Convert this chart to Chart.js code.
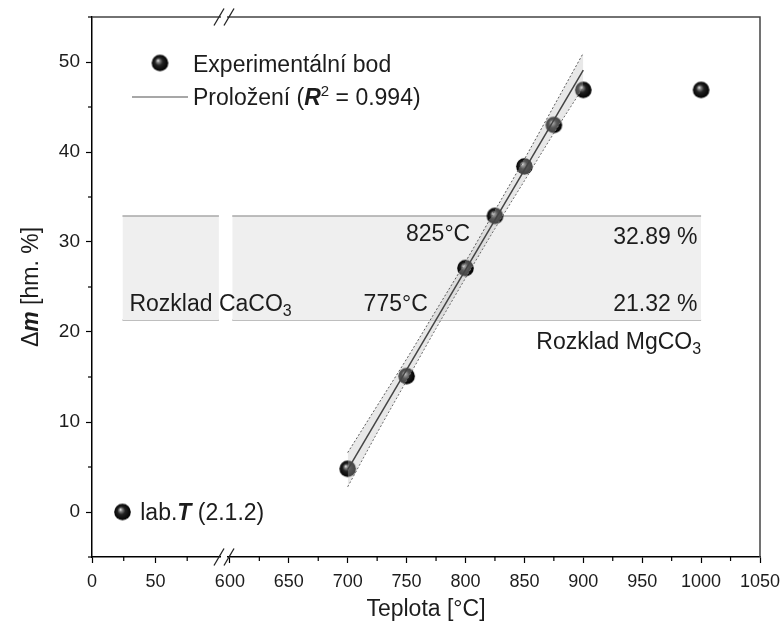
<!DOCTYPE html>
<html>
<head>
<meta charset="utf-8">
<script src="https://cdn.jsdelivr.net/npm/chart.js@4.4.1/dist/chart.umd.min.js"></script>
<style>
  body { margin: 0; background: #fff; }
  #wrap { width: 783px; height: 628px; }
</style>
</head>
<body>
<div id="wrap"><canvas id="chart"></canvas></div>
<script>
// namerene body
var tempExp = [700, 750, 800, 825, 850, 875, 900, 1000];
var massExp = [4.8, 15.1, 27.1, 32.9, 38.4, 43.0, 46.9, 46.9];
var tempLab = [24];
var massLab = [0];

// prolozeni a pas spolehlivosti
var tempFit = [700, 900];
var massFit = [4.7, 49.1];
var tempBand = [700, 725, 750, 775, 800, 825, 850, 875, 900];
var bandUpper = [6.6, 11.8, 17.0, 22.4, 27.8, 33.5, 39.2, 45.1, 51.0];
var bandLower = [2.8, 8.8, 14.6, 20.4, 26.0, 31.5, 36.8, 42.1, 47.2];

// oblasti rozkladu
var caco3Range = [24, 100];
var mgco3Range = [602, 1000];
var stepLevels = [32.89, 21.32];

// osy
var xLeftRange = [0, 104];
var xRightRange = [595, 1050];
var xTicksLeft = [0, 25, 50, 75];
var xTicksRight = [600, 625, 650, 675, 700, 725, 750, 775, 800, 825, 850, 875, 900, 925, 950, 975, 1000, 1025, 1050];
var yTicks = [-5, 0, 5, 10, 15, 20, 25, 30, 35, 40, 45, 50, 55];

var FONT = '"Liberation Sans", Arial, sans-serif';
var TXT = '#1c1c1c';

function pts(xs, ys) {
    return xs.map(function(x, i) { return {x: x, y: ys[i]}; });
}

function makeSphere(r) {
    var c = document.createElement('canvas');
    var s = Math.ceil(r * 2 + 2);
    c.width = s; c.height = s;
    var g = c.getContext('2d');
    var cx = s / 2, cy = s / 2;
    var grad = g.createRadialGradient(cx - r * 0.25, cy - r * 0.3, r * 0.03, cx, cy, r);
    grad.addColorStop(0, '#eeeeee');
    grad.addColorStop(0.15, '#8a8a8a');
    grad.addColorStop(0.45, '#222');
    grad.addColorStop(1, '#000');
    g.fillStyle = grad;
    g.beginPath(); g.arc(cx, cy, r, 0, Math.PI * 2); g.fill();
    return c;
}
var sphere = makeSphere(8.3);

function richText(ctx, runs, x, y, align) {
    var w = 0;
    runs.forEach(function(r) { ctx.font = r.font; r.w = ctx.measureText(r.t).width; w += r.w; });
    var cx = align === 'right' ? x - w : (align === 'center' ? x - w / 2 : x);
    ctx.textAlign = 'left';
    ctx.textBaseline = 'alphabetic';
    runs.forEach(function(r) { ctx.font = r.font; ctx.fillText(r.t, cx, y + (r.dy || 0)); cx += r.w; });
}
function f(size, style) { return (style || '') + ' ' + size + 'px ' + FONT; }

function breakMark(ctx, x, y) {
    ctx.save();
    ctx.fillStyle = '#fff';
    ctx.fillRect(x - 3, y - 2, 6, 4);
    ctx.strokeStyle = '#222';
    ctx.lineWidth = 1.3;
    [-5, 5].forEach(function(dx) {
        ctx.beginPath();
        ctx.moveTo(x + dx - 5, y + 8.5);
        ctx.lineTo(x + dx + 5, y - 8.5);
        ctx.stroke();
    });
    ctx.restore();
}

var decor = {
    id: 'decor',
    afterDraw: function(chart) {
        var ctx = chart.ctx;
        var a = chart.chartArea;
        var x1 = chart.scales.x1, x2 = chart.scales.x2, y = chart.scales.y;
        ctx.save();

        // ramecek nahore a vpravo
        ctx.strokeStyle = '#444';
        ctx.lineWidth = 1.5;
        ctx.beginPath();
        ctx.moveTo(a.left, a.top); ctx.lineTo(a.right, a.top); ctx.lineTo(a.right, a.bottom);
        ctx.stroke();

        // vedlejsi ticky
        ctx.strokeStyle = '#000';
        ctx.lineWidth = 1.2;
        [x1, x2].forEach(function(s) {
            s.ticks.forEach(function(t) {
                if (t.value % 50 === 0) return;
                var px = s.getPixelForValue(t.value);
                ctx.beginPath(); ctx.moveTo(px, a.bottom); ctx.lineTo(px, a.bottom + 4); ctx.stroke();
            });
        });
        y.ticks.forEach(function(t) {
            if (t.value % 10 === 0) return;
            var py = y.getPixelForValue(t.value);
            ctx.beginPath(); ctx.moveTo(a.left - 4, py); ctx.lineTo(a.left, py); ctx.stroke();
        });

        // preruseni osy
        breakMark(ctx, x2.left, a.bottom);
        breakMark(ctx, x2.left, a.top);

        ctx.fillStyle = TXT;
        // popisky v grafu
        richText(ctx, [{t: '825°C', font: f(23)}], x2.getPixelForValue(804), y.getPixelForValue(30.1), 'right');
        richText(ctx, [{t: '775°C', font: f(23)}], x2.getPixelForValue(768), y.getPixelForValue(22.3), 'right');
        richText(ctx, [{t: '32.89 %', font: f(23)}], x2.getPixelForValue(997), y.getPixelForValue(29.8), 'right');
        richText(ctx, [{t: '21.32 %', font: f(23)}], x2.getPixelForValue(997), y.getPixelForValue(22.3), 'right');
        richText(ctx, [{t: 'Rozklad CaCO', font: f(23)}, {t: '3', font: f(16), dy: 5}],
            x1.getPixelForValue(29.5), y.getPixelForValue(22.3), 'left');
        richText(ctx, [{t: 'Rozklad MgCO', font: f(23)}, {t: '3', font: f(16), dy: 5}],
            x2.getPixelForValue(1000), y.getPixelForValue(18.1), 'right');
        richText(ctx, [{t: 'lab.', font: f(23)}, {t: 'T', font: f(23, 'italic bold')}, {t: ' (2.1.2)', font: f(23)}],
            x1.getPixelForValue(38), y.getPixelForValue(-0.9), 'left');

        // legenda
        ctx.drawImage(sphere, 160 - sphere.width / 2, 63 - sphere.height / 2);
        ctx.strokeStyle = '#8a8a8a';
        ctx.lineWidth = 1.5;
        ctx.beginPath(); ctx.moveTo(132, 97); ctx.lineTo(188, 97); ctx.stroke();
        ctx.fillStyle = TXT;
        richText(ctx, [{t: 'Experimentální bod', font: f(23)}], 193, 72, 'left');
        richText(ctx, [{t: 'Proložení (', font: f(23)}, {t: 'R', font: f(23, 'italic bold')},
            {t: '2', font: f(15), dy: -9}, {t: ' = 0.994)', font: f(23)}], 193, 105, 'left');

        // nazvy os
        richText(ctx, [{t: 'Teplota [°C]', font: f(23)}], (a.left + a.right) / 2, 616, 'center');
        ctx.translate(38, (a.top + a.bottom) / 2);
        ctx.rotate(-Math.PI / 2);
        richText(ctx, [{t: 'Δ', font: f(23)}, {t: 'm', font: f(23, 'italic bold')}, {t: ' [hm. %]', font: f(23)}], 0, 0, 'center');
        ctx.restore();
    }
};

function xAxis(range, ticks, weight) {
    return {
        type: 'linear',
        position: 'bottom',
        stack: 'teplota',
        stackWeight: weight,
        min: range[0],
        max: range[1],
        afterBuildTicks: function(s) { s.ticks = ticks.map(function(v) { return {value: v}; }); },
        afterFit: function(s) { s.height = 71; s.paddingLeft = 0; s.paddingRight = 0; },
        grid: {
            drawOnChartArea: false,
            tickLength: 6,
            tickWidth: 1.2,
            tickColor: function(c) { return c.tick && c.tick.value % 50 === 0 ? '#000' : 'rgba(0,0,0,0)'; }
        },
        border: { display: true, color: '#000', width: 1.5 },
        ticks: {
            autoSkip: false,
            maxRotation: 0,
            padding: 8,
            color: TXT,
            font: { family: FONT, size: 18 },
            callback: function(v) { return v % 50 === 0 ? String(v) : ''; }
        }
    };
}

var ctx = document.getElementById('chart').getContext('2d');
var chart = new Chart(ctx, {
    type: 'scatter',
    data: {
        datasets: [
            // CaCO3 oblast
            { xAxisID: 'x1', data: pts(caco3Range, [stepLevels[0], stepLevels[0]]), showLine: true, fill: '+1',
              backgroundColor: '#efefef', borderColor: '#a8a8a8', borderWidth: 1.5, pointRadius: 0, order: 10 },
            { xAxisID: 'x1', data: pts(caco3Range, [stepLevels[1], stepLevels[1]]), showLine: true, fill: false,
              borderColor: '#a8a8a8', borderWidth: 1.5, pointRadius: 0, order: 10 },
            // MgCO3 oblast
            { xAxisID: 'x2', data: pts(mgco3Range, [stepLevels[0], stepLevels[0]]), showLine: true, fill: '+1',
              backgroundColor: '#efefef', borderColor: '#a8a8a8', borderWidth: 1.5, pointRadius: 0, order: 10 },
            { xAxisID: 'x2', data: pts(mgco3Range, [stepLevels[1], stepLevels[1]]), showLine: true, fill: false,
              borderColor: '#a8a8a8', borderWidth: 1.5, pointRadius: 0, order: 10 },
            // body
            { xAxisID: 'x2', data: pts(tempExp, massExp), pointStyle: sphere, pointRadius: 8, order: 3 },
            { xAxisID: 'x1', data: pts(tempLab, massLab), pointStyle: sphere, pointRadius: 8, order: 3 },
            // pas spolehlivosti
            { xAxisID: 'x2', data: pts(tempBand, bandUpper), showLine: true, fill: '+1', cubicInterpolationMode: 'monotone',
              backgroundColor: 'rgba(190,190,190,0.35)', borderColor: '#5a5a5a', borderWidth: 1, borderDash: [2, 2],
              pointRadius: 0, order: 1 },
            { xAxisID: 'x2', data: pts(tempBand, bandLower), showLine: true, fill: false, cubicInterpolationMode: 'monotone',
              borderColor: '#5a5a5a', borderWidth: 1, borderDash: [2, 2], pointRadius: 0, order: 1 },
            // prolozeni
            { xAxisID: 'x2', data: pts(tempFit, massFit), showLine: true, fill: false,
              borderColor: '#444', borderWidth: 1.5, pointRadius: 0, order: 0 }
        ]
    },
    options: {
        responsive: true,
        maintainAspectRatio: false,
        animation: false,
        layout: { padding: { top: 17, right: 23, left: 0, bottom: 0 } },
        plugins: { legend: { display: false }, tooltip: { enabled: false } },
        scales: {
            x1: xAxis(xLeftRange, xTicksLeft, 132),
            x2: xAxis(xRightRange, xTicksRight, 536),
            y: {
                type: 'linear',
                position: 'left',
                min: -5,
                max: 55,
                afterBuildTicks: function(s) { s.ticks = yTicks.map(function(v) { return {value: v}; }); },
                afterFit: function(s) { s.width = 92; s.paddingTop = 0; s.paddingBottom = 0; },
                grid: {
                    drawOnChartArea: false,
                    tickLength: 6,
                    tickWidth: 1.2,
                    tickColor: function(c) { return c.tick && c.tick.value % 10 === 0 ? '#000' : 'rgba(0,0,0,0)'; }
                },
                border: { display: true, color: '#000', width: 1.5 },
                ticks: {
                    autoSkip: false,
                    padding: 6,
                    color: TXT,
                    font: { family: FONT, size: 19 },
                    callback: function(v) { return v % 10 === 0 ? String(v) : ''; }
                }
            }
        }
    },
    plugins: [decor]
});
</script>
</body>
</html>
